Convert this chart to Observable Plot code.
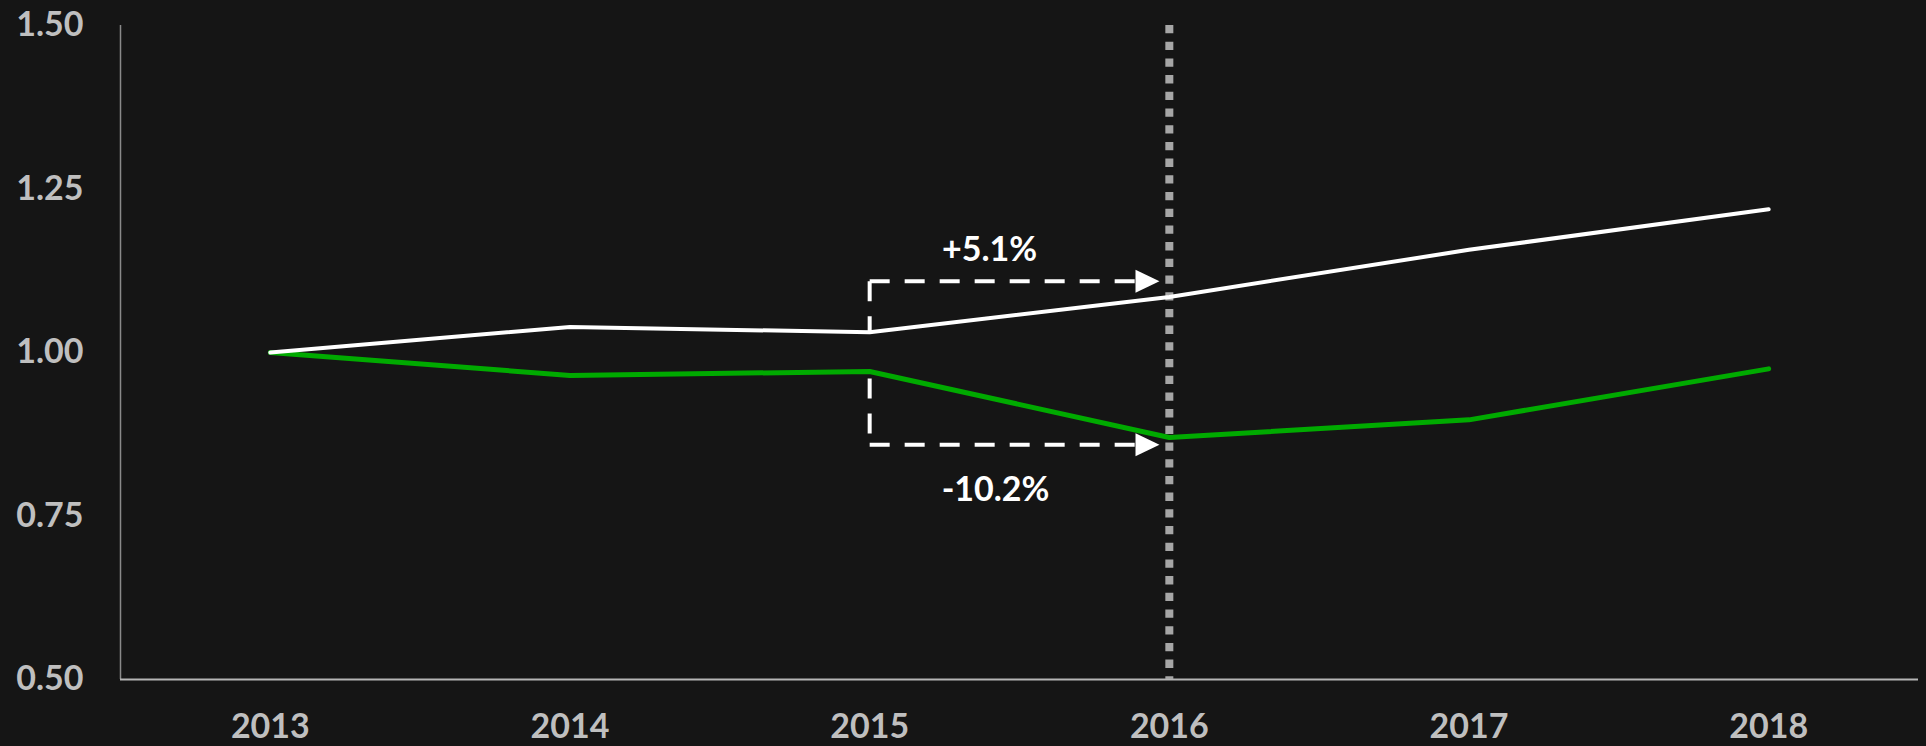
<!DOCTYPE html>
<html>
<head>
<meta charset="utf-8">
<script src="https://cdn.jsdelivr.net/npm/d3@7"></script>
<script src="https://cdn.jsdelivr.net/npm/@observablehq/plot@0.6"></script>
<style>
  html, body { margin: 0; padding: 0; background: #151515; }
</style>
</head>
<body>
<div id="chart"></div>
<script>
// ---- data ----
const years = [2013, 2014, 2015, 2016, 2017, 2018];
const whiteSeries = [1.000, 1.039, 1.031, 1.085, 1.157, 1.219];
const greenSeries = [1.000, 0.965, 0.971, 0.870, 0.897, 0.975];
const yTicks = [0.50, 0.75, 1.00, 1.25, 1.50];
const markerYear = 2016;
const startYear = 2015;
const changeLabels = ["+5.1%", "-10.2%"];
const bracketLevels = [1.109, 0.859];
const labelX = [2015.40, 2015.42];
const labelY = [1.156, 0.789];
const arrowBaseYear = 2015.887;

const white = years.map((x, i) => ({x, y: whiteSeries[i]}));
const green = years.map((x, i) => ({x, y: greenSeries[i]}));
const i15 = years.indexOf(startYear);

const triRight = {
  draw(ctx) {
    ctx.moveTo(0, -11.5);
    ctx.lineTo(24, 0);
    ctx.lineTo(0, 11.5);
    ctx.closePath();
  }
};

const dash = {stroke: "#ffffff", strokeWidth: 4, strokeDasharray: "20,15", strokeLinecap: "butt"};

const chart = Plot.plot({
  width: 1926,
  height: 746,
  marginLeft: 120,
  marginRight: 8,
  marginTop: 25,
  marginBottom: 67,
  style: {background: "#151515", color: "#bfbfbf", fontFamily: "Lato, 'Liberation Sans', sans-serif"},
  x: {type: "linear", domain: [2012.5, 2018.5]},
  y: {domain: [0.5, 1.5]},
  marks: [
    Plot.ruleX([2012.5], {stroke: "#8a8a8a", strokeWidth: 1.5}),
    Plot.ruleY([0.5], {stroke: "#b5b5b5", strokeWidth: 2}),
    Plot.ruleX([markerYear], {stroke: "#a6a6a6", strokeWidth: 8, strokeDasharray: "8.3,8.4", y1: 1.5, y2: 0.5}),
    Plot.axisY({ticks: yTicks, tickFormat: d3.format(".2f"), tickSize: 0, tickPadding: 37, fontSize: 34, fontWeight: "bold", fill: "#bfbfbf", label: null}),
    Plot.axisX({ticks: years, tickFormat: d3.format("d"), tickSize: 0, tickPadding: 34, fontSize: 34, fontWeight: "bold", fill: "#bfbfbf", label: null}),
    // brackets
    Plot.link([{x1: startYear, y1: bracketLevels[0], x2: startYear, y2: whiteSeries[i15]}], {x1: "x1", y1: "y1", x2: "x2", y2: "y2", ...dash}),
    Plot.link([{x1: startYear, y1: bracketLevels[0], x2: arrowBaseYear, y2: bracketLevels[0]}], {x1: "x1", y1: "y1", x2: "x2", y2: "y2", ...dash}),
    Plot.link([{x1: startYear, y1: greenSeries[i15], x2: startYear, y2: bracketLevels[1]}], {x1: "x1", y1: "y1", x2: "x2", y2: "y2", ...dash, strokeDashoffset: 28}),
    Plot.link([{x1: startYear, y1: bracketLevels[1], x2: arrowBaseYear, y2: bracketLevels[1]}], {x1: "x1", y1: "y1", x2: "x2", y2: "y2", ...dash}),
    Plot.dot(bracketLevels.map(y => ({x: arrowBaseYear, y})), {x: "x", y: "y", symbol: triRight, fill: "#ffffff", stroke: null}),
    Plot.text(changeLabels.map((t, i) => ({t, x: labelX[i], y: labelY[i]})), {x: "x", y: "y", text: "t", fill: "#ffffff", fontSize: 34, fontWeight: "bold"}),
    // series
    Plot.line(green, {x: "x", y: "y", stroke: "#00aa00", strokeWidth: 5, strokeLinecap: "round", strokeLinejoin: "round"}),
    Plot.line(white, {x: "x", y: "y", stroke: "#ffffff", strokeWidth: 4, strokeLinecap: "round", strokeLinejoin: "round"})
  ]
});
document.getElementById("chart").appendChild(chart);
</script>
</body>
</html>
